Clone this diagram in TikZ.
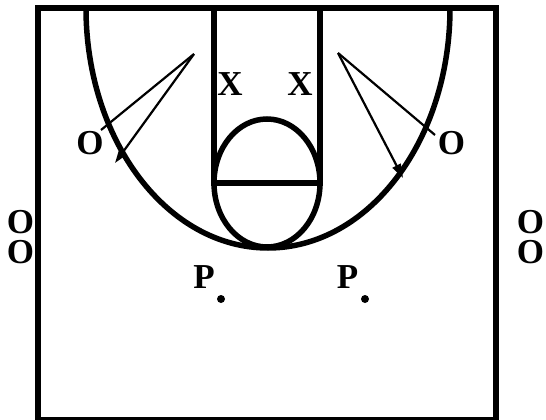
\documentclass[tikz,border=0pt]{standalone}
\usepackage{fontspec}
\setmainfont{Liberation Serif}
\usetikzlibrary{arrows.meta}
\begin{document}
\begin{tikzpicture}[
   x=1pt,y=-1pt,
   courtline/.style={line width=5.5pt},
   player/.style={font=\fontsize{35}{30}\selectfont\bfseries,inner sep=0pt,align=center},
   spot/.style={circle,fill=black,inner sep=0pt,minimum size=8pt},
   cutline/.style={line width=2.2pt},
   cutarrow/.style={cutline,-{Triangle[length=14pt,width=9pt]}}
 ]
 \useasboundingbox (0,0) rectangle (546,420);
 % Half court, units are pixels of the diagram (y grows downward).
 \draw[courtline,line width=6pt] (37.5,8) rectangle (496,420);
 \draw[courtline] (214,8) -- (214,183) -- (320,183) -- (320,8);
 \draw[courtline] (267,183) ellipse [x radius=53,y radius=64];
 \draw[courtline] (86,8) arc [start angle=180,end angle=0,x radius=182,y radius=240];
 \node[player] (xl) at (230,84.5) {X};
 \node[player] (xr) at (300,84.5) {X};
 \node[player] (ol) at (90,143) {O};
 \node[player] (or) at (451.5,143.5) {O};
 \node[player] (pl) at (204,277.5) {P};
 \node[player] (pr) at (347.5,277.5) {P};
 \node[spot] (dl) at (221,299) {};
 \node[spot] (dr) at (365,299) {};
 \foreach \side/\xx in {l/20.5,r/530.5} {
   \node[player] (ostack\side) at (\xx,237.5) {O\\O};
 }
 \coordinate (lapex) at (194,54);
 \coordinate (lend) at (101,130);
 \coordinate (ltip) at (115,163);
 \coordinate (rapex) at (338,53);
 \coordinate (rend) at (435,135);
 \coordinate (rtip) at (403,178);
 \foreach \from/\to/\kind in {
   lapex/lend/cutline,lapex/ltip/cutarrow,
   rapex/rend/cutline,rapex/rtip/cutarrow} {
   \draw[\kind] (\from) -- (\to);
 }
\end{tikzpicture}
\end{document}
